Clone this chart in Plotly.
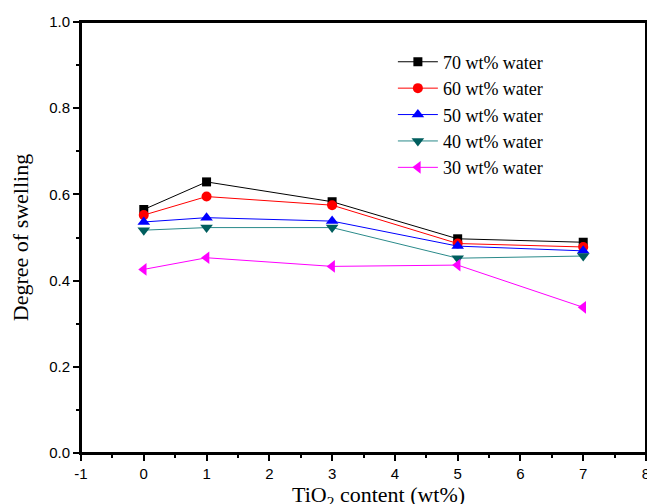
import plotly.graph_objects as go

tio2 = [0, 1, 3, 5, 7]
series_names = ["70 wt% water", "60 wt% water", "50 wt% water", "40 wt% water", "30 wt% water"]
w70 = [0.565, 0.629, 0.583, 0.497, 0.489]
w60 = [0.552, 0.595, 0.575, 0.486, 0.478]
w50 = [0.536, 0.546, 0.538, 0.480, 0.469]
w40 = [0.517, 0.523, 0.523, 0.452, 0.457]
w30 = [0.426, 0.453, 0.433, 0.436, 0.338]
x_ticks = [-1, 0, 1, 2, 3, 4, 5, 6, 7, 8]
y_ticks = [0.0, 0.2, 0.4, 0.6, 0.8, 1.0]

styles = [
    dict(line="#000000", marker="#000000", symbol="square", size=9),
    dict(line="#FF0000", marker="#FF0000", symbol="circle", size=10),
    dict(line="#0000FF", marker="#0000FF", symbol="triangle-up", size=11),
    dict(line="#2A8A8A", marker="#005E5E", symbol="triangle-down", size=11),
    dict(line="#FF00FF", marker="#FF00FF", symbol="triangle-left", size=11),
]

fig = go.Figure()
for name, ys, st in zip(series_names, [w70, w60, w50, w40, w30], styles):
    fig.add_trace(go.Scatter(
        x=tio2, y=ys, name=name, mode="lines+markers",
        line=dict(color=st["line"], width=1),
        marker=dict(color=st["marker"], symbol=st["symbol"], size=st["size"], line=dict(width=0)),
    ))

axis_common = dict(
    showline=True, linecolor="#000000", linewidth=2, mirror=True,
    showgrid=False, zeroline=False,
    ticks="outside", ticklen=6, tickwidth=1.5, tickcolor="black",
    tickfont=dict(family="Liberation Sans, Arial", size=15, color="black"),
)
title_font = dict(family="Liberation Serif, Times New Roman", size=22, color="black")

fig.update_xaxes(
    range=[-1, 8], tickvals=x_ticks, ticktext=[str(v) for v in x_ticks],
    minor=dict(ticks="outside", ticklen=3, tickwidth=1.5, tickcolor="black", dtick=0.5),
    **axis_common,
)
fig.update_yaxes(
    range=[0, 1.0], tickvals=y_ticks, ticktext=[f"{v:.1f}" for v in y_ticks],
    minor=dict(ticks="outside", ticklen=3, tickwidth=1.5, tickcolor="black", dtick=0.1),
    title=dict(text="Degree of swelling", font=title_font, standoff=16),
    **axis_common,
)

# x-axis title (slightly right of centre, as in the reference)
fig.add_annotation(text="TiO<sub>2</sub> content (wt%)", xref="paper", yref="paper",
                   x=0.527, y=0, xanchor="center", yanchor="top", yshift=-27,
                   showarrow=False, font=title_font)

# plot frame
fig.add_shape(type="rect", xref="paper", yref="paper", x0=0, y0=0, x1=1, y1=1,
              line=dict(color="#000000", width=2), fillcolor="rgba(0,0,0,0)", layer="above")

# page body has an 8px margin; compensate so the plot box lands where the reference has it
fig.update_layout(
    width=647, height=496,
    margin=dict(l=73, r=5, t=12, b=51),
    plot_bgcolor="white", paper_bgcolor="white",
    legend=dict(
        x=0.552, y=0.95, xanchor="left", yanchor="top",
        font=dict(family="Liberation Serif, Times New Roman", size=18, color="black"),
        bgcolor="rgba(0,0,0,0)", itemwidth=40, tracegroupgap=0,
    ),
)

fig.write_html("out.html")
